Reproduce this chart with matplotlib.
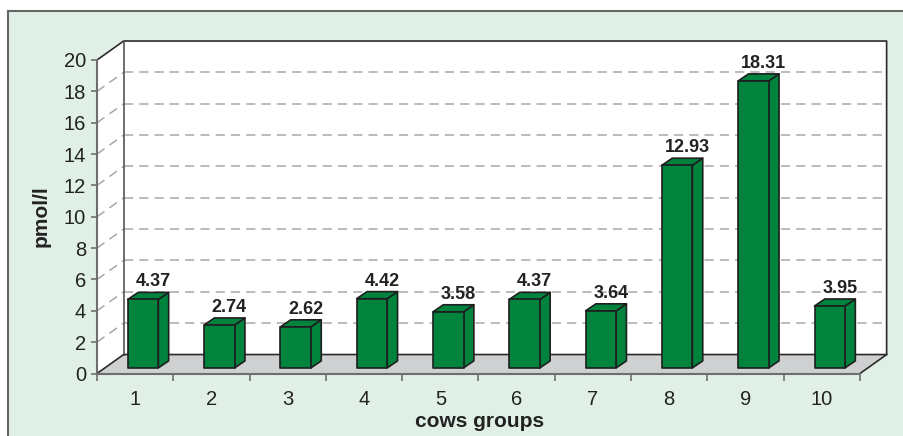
import matplotlib
matplotlib.use('Agg')
import matplotlib.pyplot as plt
from matplotlib.patches import Polygon, Rectangle

plt.rcParams['font.family'] = ['Liberation Sans', 'DejaVu Sans']

# данные
groups = ['1', '2', '3', '4', '5', '6', '7', '8', '9', '10']
values = [4.37, 2.74, 2.62, 4.42, 3.58, 4.37, 3.64, 12.93, 18.31, 3.95]
y_ticks = [0, 2, 4, 6, 8, 10, 12, 14, 16, 18, 20]
x_title = 'cows groups'
y_title = 'pmol/l'

# оформление
BG = '#e0f0e6'
GREEN = '#00843d'
FLOOR = '#cfd0d2'
GRID = '#a8a8a8'
AXIS = '#6e6e6e'
TXT = '#222222'

W, H = 904, 436
fig = plt.figure(figsize=(W / 100, H / 100), dpi=100)
fig.patch.set_facecolor('white')
fig.patches.append(Rectangle((8 / W, -0.1), 1.2, (H - 11) / H + 0.1,
                             transform=fig.transFigure, facecolor=BG,
                             edgecolor='#666666', lw=1.5, zorder=-5))

# передняя плоскость осей
x0p, x1p, y0p, y1p = 97, 860, 373.5, 60
ax = fig.add_axes([x0p / W, (H - y0p) / H, (x1p - x0p) / W, (y0p - y1p) / H])
ax.set_facecolor('none')
n = len(values)
ymax = y_ticks[-1]
ax.set_xlim(0, n)
ax.set_ylim(0, ymax)

# смещение глубины (в единицах данных)
ddx, ddy = 0.349, 1.21
# передняя грань столбиков и их глубина
bsx, bsy = 0.104, 0.357
bdx, bdy = 0.135, 0.447
bw = 0.40

# задняя стенка
ax.add_patch(Polygon([(ddx, ddy), (n + ddx, ddy), (n + ddx, ymax + ddy), (ddx, ymax + ddy)],
                     closed=True, facecolor='white', edgecolor='none', clip_on=False, zorder=1))
# левая стенка
ax.add_patch(Polygon([(0, 0), (ddx, ddy), (ddx, ymax + ddy), (0, ymax)],
                     closed=True, facecolor='white', edgecolor='none', clip_on=False, zorder=1))
# пол
ax.add_patch(Polygon([(0, 0), (n, 0), (n + ddx, ddy), (ddx, ddy)],
                     closed=True, facecolor=FLOOR, edgecolor='none', clip_on=False, zorder=1))

# сетка
for t in y_ticks[1:-1]:
    ax.plot([ddx, n + ddx], [t + ddy, t + ddy], color=GRID, lw=1.1,
            dashes=(6, 4), clip_on=False, zorder=2)
    ax.plot([0, ddx], [t, t + ddy], color=GRID, lw=1.1,
            dashes=(6, 4), clip_on=False, zorder=2)

# рёбра стенок
ax.plot([0, ddx, n + ddx, n + ddx, n], [ymax, ymax + ddy, ymax + ddy, ddy, 0],
        color='#2a2a2a', lw=1.2, clip_on=False, zorder=3)
ax.plot([ddx, ddx], [ddy, ymax + ddy], color='#555555', lw=1.2, clip_on=False, zorder=3)
ax.plot([0, ddx, n + ddx], [0, ddy, ddy], color='#2a2a2a', lw=1.2, clip_on=False, zorder=3)

# столбики
for i, v in enumerate(values):
    xl = i + 0.5 - bw / 2 + bsx
    xr = xl + bw
    yb = bsy
    yt = bsy + v
    side = [(xr, yb), (xr + bdx, yb + bdy), (xr + bdx, yt + bdy), (xr, yt)]
    top = [(xl, yt), (xr, yt), (xr + bdx, yt + bdy), (xl + bdx, yt + bdy)]
    front = [(xl, yb), (xr, yb), (xr, yt), (xl, yt)]
    for pts in (side, top, front):
        ax.add_patch(Polygon(pts, closed=True, facecolor=GREEN, edgecolor='#1e1e1e',
                             lw=1.2, joinstyle='round', clip_on=False, zorder=5))
    ax.annotate('%.2f' % v, xy=(xl + bw / 2, yt), xytext=(10, 13),
                textcoords='offset pixels', ha='center', va='baseline',
                fontsize=13, fontweight='bold', color=TXT, zorder=6,
                annotation_clip=False)

# оси
for s in ('top', 'right'):
    ax.spines[s].set_visible(False)
for s in ('left', 'bottom'):
    ax.spines[s].set_color(AXIS)
    ax.spines[s].set_linewidth(1.5)
    ax.spines[s].set_zorder(4)

ax.set_yticks(y_ticks)
ax.tick_params(axis='y', direction='out', length=4, width=1.2, color=AXIS,
               labelsize=14.5, labelcolor=TXT, pad=4)
ax.set_xticks(range(n + 1))
ax.set_xticklabels([])
ax.set_xticks([i + 0.5 for i in range(n)], minor=True)
ax.set_xticklabels(groups, minor=True)
ax.tick_params(axis='x', which='major', direction='out', length=5, width=1.2, color=AXIS)
ax.tick_params(axis='x', which='minor', length=0, labelsize=14.5, labelcolor=TXT, pad=12)

ax.set_xlabel(x_title, fontsize=15, fontweight='bold', color=TXT)
ax.xaxis.set_label_coords(480 / W, (H - 427) / H, transform=fig.transFigure)
ax.xaxis.label.set_va('baseline')
ax.set_ylabel(y_title, fontsize=15, fontweight='bold', color=TXT)
ax.yaxis.set_label_coords(41.5 / W, (H - 216) / H, transform=fig.transFigure)
ax.yaxis.label.set_va('center')

fig.savefig('out.png', dpi=100, facecolor=fig.get_facecolor())
